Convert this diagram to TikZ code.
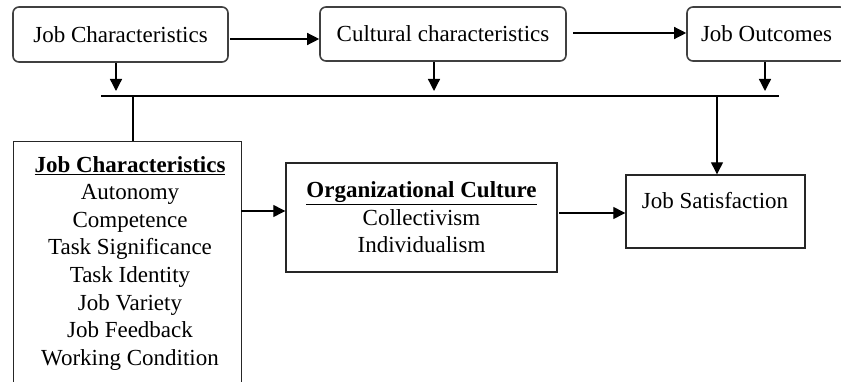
\documentclass[tikz,border=0pt]{standalone}
\usepackage{fontspec}
\setmainfont{Liberation Serif}
\usetikzlibrary{arrows.meta}
\begin{document}
\begin{tikzpicture}[x=1pt,y=-1pt,
  rbox/.style={draw=black!75, line width=1.6pt, rounded corners=6pt, inner sep=0pt,
    font=\fontsize{23}{27.6}\selectfont},
  sbox/.style={draw=black!85, line width=1.4pt, inner sep=0pt,
    font=\fontsize{23}{27.6}\selectfont, align=center},
  txt/.style={inner sep=0pt, align=center, font=\fontsize{23}{27.6}\selectfont},
  arr/.style={line width=1.3pt, -{Triangle[length=12pt,width=12pt]}},
  ln/.style={line width=1.3pt}]
\useasboundingbox (0,0) rectangle (841,382);
\clip (0,0) rectangle (841,382);
% top row
\node[rbox, minimum width=215pt, minimum height=55pt] (b1) at (120.5,34.5) {Job Characteristics};
\node[rbox, minimum width=246pt, minimum height=54pt] (b2) at (443,34) {Cultural characteristics};
\node[rbox, minimum width=159pt, minimum height=54pt] (b3) at (766.5,34) {Job Outcomes};
% bus line
\coordinate (busW) at (101,96);
\coordinate (busE) at (779,96);
\draw[ln] (busW) -- (busE);
\coordinate (t1) at (116,91);
\coordinate (t2) at (434,91);
\coordinate (t3) at (765,91);
\draw[arr] (b1.south -| t1) -- (t1);
\draw[arr] (b2.south -| t2) -- (t2);
\draw[arr] (b3.south -| t3) -- (t3);
% top horizontal arrows
\coordinate (a1s) at (230,39);
\coordinate (a2s) at (573,33);
\draw[arr] (a1s) -- (a1s -| b2.west);
\draw[arr] (a2s) -- (a2s -| b3.west);
% bottom row
\node[sbox, minimum width=228pt, minimum height=260pt, anchor=north west] (b4) at (13,141) {};
\node[txt, anchor=north] (b4t) at (130,156) {\underline{\textbf{Job Characteristics}}\\Autonomy\\Competence\\Task Significance\\Task Identity\\Job Variety\\Job Feedback\\Working Condition};
\node[sbox, minimum width=271pt, minimum height=109pt] (b5) at (421.5,217.5) {\underline{\textbf{Organizational Culture}}\\Collectivism\\Individualism};
\node[sbox, minimum width=179pt, minimum height=73pt] (b6) at (715.5,211.5) {};
\node[txt] (b6t) at (715,201) {Job Satisfaction};
% connectors
\coordinate (v1) at (133,96);
\draw[ln] (v1) -- (v1 |- b4.north);
\coordinate (v2) at (717,96);
\draw[arr] (v2) -- (v2 |- b6.north);
\coordinate (h1) at (241,211);
\draw[arr] (h1) -- (h1 -| b5.west);
\coordinate (h2) at (559,213);
\draw[arr] (h2) -- (h2 -| b6.west);
\end{tikzpicture}
\end{document}
